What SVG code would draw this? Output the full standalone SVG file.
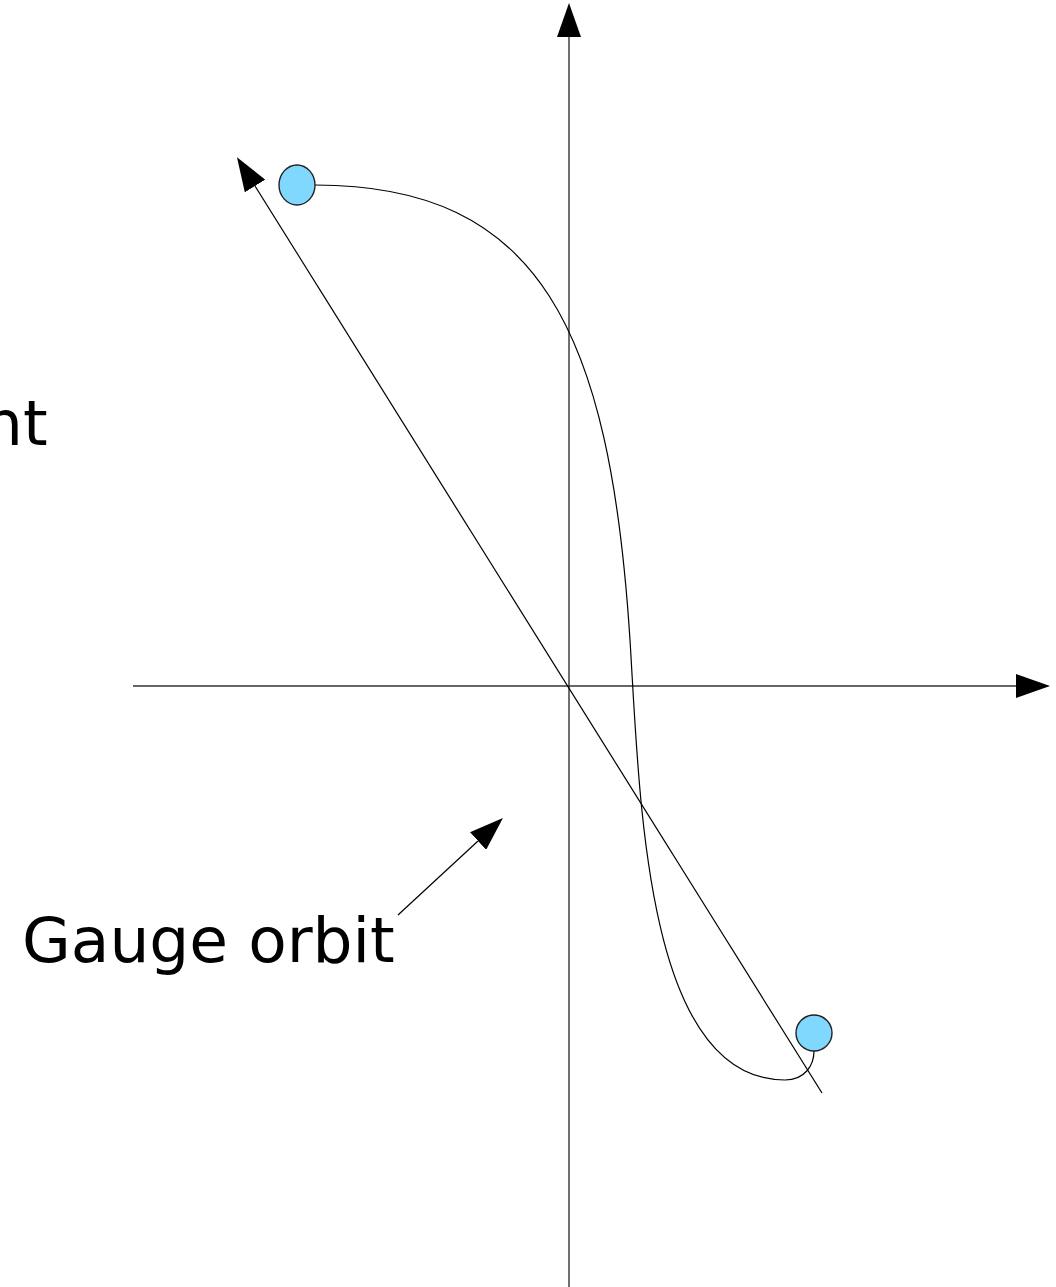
<svg xmlns="http://www.w3.org/2000/svg" width="1056" height="1287" viewBox="0 0 1056 1287">
<style>
.ln{stroke:#000;stroke-width:1.2;fill:none}
.ax{stroke:#333;stroke-width:1.4;fill:none}
.pt{fill:#80d8ff;stroke:#222;stroke-width:1.4}
.lbl{font-family:"DejaVu Sans",sans-serif;font-size:63px;fill:#000}
</style>
<defs>
<marker id="ah" viewBox="0 0 34 24" refX="0" refY="12" markerWidth="34" markerHeight="24" markerUnits="userSpaceOnUse" orient="auto">
<path d="M0,0 L34,12 L0,24 Z" fill="#000"/>
</marker>
</defs>
<rect width="1056" height="1287" fill="#fff"/>
<g id="connectors">
<line class="ax" x1="569" y1="1287" x2="569" y2="37" marker-end="url(#ah)"/>
<line class="ax" x1="133" y1="686" x2="1016" y2="686" marker-end="url(#ah)"/>
<line class="ln" x1="822" y1="1093" x2="255" y2="186" marker-end="url(#ah)"/>
<line class="ln" x1="398" y1="915" x2="478" y2="841" marker-end="url(#ah)"/>
<path id="orbit-curve" class="ln" d="M315,185 C540,185 610,330 630,640 C640,800 645,1080 785,1080 C805,1080 814,1065 814,1051"/>
</g>
<g id="point-top"><ellipse class="pt" cx="297" cy="185" rx="18" ry="20"/></g>
<g id="point-bottom"><circle class="pt" cx="814" cy="1033" r="18"/></g>
<g id="label-left"><text class="lbl" x="-17" y="445">nt</text></g>
<g id="label-gauge-orbit"><text class="lbl" x="22" y="962">Gauge orbit</text></g>
</svg>
